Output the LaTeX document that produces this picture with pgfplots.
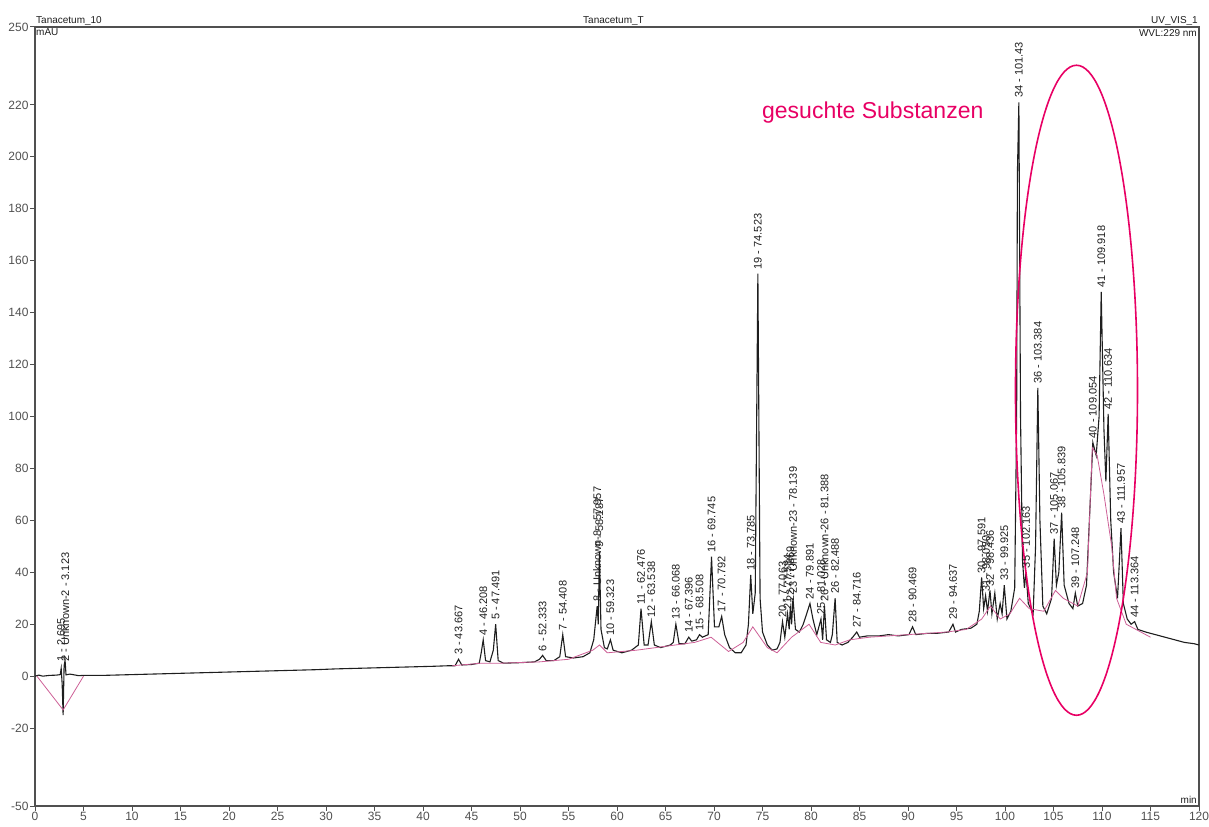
\documentclass[border=0pt]{standalone}
\usepackage{fontspec}
\setmainfont{Liberation Sans}
\usepackage{pgfplots}
\usepackage{pgfplotstable}
\pgfplotsset{compat=1.18}
\definecolor{mag}{RGB}{232,0,100}
\definecolor{axgray}{RGB}{80,80,80}
\definecolor{trace}{RGB}{30,30,30}
\definecolor{pinkb}{RGB}{205,95,150}

\pgfplotstableread{
t y
0 0
0.4 0.4
0.8 0
1.5 0.3
2.2 0.4
2.6 0.6
2.7 3
2.8 -3
2.9 -15
3.0 4
3.1 6
3.2 0.5
3.6 0.8
4.5 0.2
5 0.3
7 0.3
9 0.5
11 0.7
13 0.9
15 1.1
17 1.3
19 1.5
21 1.7
23 1.9
25 2.1
27 2.3
29 2.5
31 2.8
33 3.0
35 3.2
37 3.4
39 3.6
41 3.8
42.5 4.0
43.3 4.0
43.667 6.5
44.0 4.3
45.0 4.5
45.8 5
46.0 9
46.208 14
46.45 6
46.9 5.5
47.25 10
47.491 20
47.75 6
48.3 5
50.0 5.2
51.5 5.5
52.0 6.5
52.333 8
52.7 6
53.5 6
54.1 7.5
54.408 16
54.7 7.5
55.5 7
56.5 7.5
57.2 9
57.6 14
57.957 27
58.07 20
58.187 48
58.35 18
58.7 11
59.0 10.5
59.323 14
59.6 10
60.5 9
61.5 10
62.2 12
62.476 26
62.8 12
63.2 12
63.538 21
63.85 12
64.5 11
65.5 12
65.8 13
66.068 20
66.4 12.5
67.0 12.5
67.396 15
67.7 13.5
68.2 14
68.508 16
68.8 15
69.4 16
69.745 46
70.05 19
70.5 19
70.792 23
71.1 16
71.6 11
72.2 9
72.8 9
73.3 12
73.55 20
73.785 39
74.0 24
74.25 32
74.523 155
74.75 30
75.0 17
75.5 12
76.0 10
76.5 10.5
76.8 13
77.063 21
77.3 15
77.584 24
77.75 18
77.869 27
78.0 20
78.139 30
78.4 18
78.8 17
79.2 20
79.55 24
79.891 28
80.2 22
80.6 16
81.028 22
81.2 14
81.388 27
81.6 14
82.0 13
82.2 16
82.488 30
82.7 13
83.2 12
83.8 13
84.3 15
84.716 17
85.0 15
85.8 15.5
87 15.5
88 16
89 15.5
90.1 16
90.469 19
90.8 16
92 16.5
93 16.5
94.2 17
94.637 20
94.9 17
95.5 18
96.5 18.5
97.1 20
97.35 25
97.591 38
97.8 26
98.0 31
98.2 25
98.45 33
98.65 24
98.95 32
99.2 22
99.5 28
99.7 24
99.925 35
100.2 22
100.6 25
101.0 34
101.2 100
101.28 194
101.43 221
101.6 100
101.8 45
102.0 34
102.163 40
102.4 28
102.9 24
103.15 50
103.384 111
103.6 60
103.9 27
104.3 24
104.8 30
105.067 53
105.3 35
105.55 40
105.839 63
106.1 35
106.6 28
107.0 26
107.248 32
107.5 27
108.0 28
108.4 35
108.7 60
109.054 90
109.4 85
109.7 100
109.918 148
110.2 95
110.4 75
110.634 101
110.9 60
111.2 40
111.6 30
111.8 45
111.957 57
112.2 28
112.6 22
113.0 20
113.364 21
113.7 18
114.5 17
115.5 16
116.5 15
117.5 14
118.5 13
119.5 12.5
120 12
}\chrom

\pgfplotstableread{
t y
43 4
46 5
48 5
52 5.5
55 6.5
57.5 10
58.2 12
59 9
62 10
64 11
66 12
68 13
69.7 15
71.5 9.5
73 13
74 19
75.5 11
76.5 9
78 15
79.8 20
81 13
82.5 12
84 14
86 15
90 16
94 17
96 18
97.6 22
98.5 27
99.5 22
100.5 24
101.5 30
102.5 26
104 25
105.2 33
106 30
107.5 27
108.5 40
109.0 88
109.5 85
110.2 70
111.0 50
111.5 30
112.5 20
113.5 18
115 15
}\pinkbase

\pgfplotstableread[col sep=comma]{
t,y,lab
2.695,5,1 - 2.695
3.123,5,2 - Unknown-2 - 3.123
43.667,7.5,3 - 43.667
46.208,15,4 - 46.208
47.491,21,5 - 47.491
52.333,9,6 - 52.333
54.408,17,7 - 54.408
57.957,28,8 - Unknown-8 - 57.957
58.187,49,9 - 58.187
59.323,15,10 - 59.323
62.476,27,11 - 62.476
63.538,22,12 - 63.538
66.068,21,13 - 66.068
67.396,16,14 - 67.396
68.508,17,15 - 68.508
69.745,47,16 - 69.745
70.792,24,17 - 70.792
73.785,40,18 - 73.785
74.523,156,19 - 74.523
77.063,22,20 - 77.063
77.584,25,21 - 77.584
77.869,28,22 - 77.869
78.139,31,23 - Unknown-23 - 78.139
79.891,29,24 - 79.891
81.028,23,25 - 81.028
81.388,28,26 - Unknown-26 - 81.388
82.488,31,26 - 82.488
84.716,18,27 - 84.716
90.469,20,28 - 90.469
94.637,21,29 - 94.637
97.591,39,30 - 97.591
98.05,32,31 - 98.050
98.45,34,32 - 98.436
99.925,36,33 - 99.925
101.43,222,34 - 101.43
102.163,41,35 - 102.163
103.384,112,36 - 103.384
105.067,54,37 - 105.067
105.839,64,38 - 105.839
107.248,33,39 - 107.248
109.054,91,40 - 109.054
109.918,149,41 - 109.918
110.634,102,42 - 110.634
111.957,58,43 - 111.957
113.364,22,44 - 113.364
}\labels

\begin{document}
\begin{tikzpicture}
\begin{axis}[
  width=1164pt, height=779pt, scale only axis,
  xmin=0, xmax=120, ymin=-50, ymax=250,
  xtick={0,5,...,120},
  ytick={-50,-20,0,20,40,60,80,100,120,140,160,180,200,220,250},
  axis line style={axgray, line width=1.6pt},
  tick style={axgray, line width=1pt},
  tick align=outside, major tick length=5pt,
  xtick pos=bottom, ytick pos=left,
  tick label style={font=\fontsize{12}{12}\selectfont, text=axgray},
  xticklabel style={yshift=2pt},
  yticklabel style={xshift=2pt},
  /pgf/number format/assume math mode=true,
  /pgf/number format/1000 sep={},
  clip=false,
]
\addplot[trace, line width=1.1pt] table[x=t,y=y] {\chrom};
\addplot[pinkb, line width=0.8pt] table[x=t,y=y] {\pinkbase};
\addplot[pinkb, line width=0.8pt] coordinates {(0.2,0) (2.9,-13) (5,0)};
\addplot[only marks, mark=none, nodes near coords, point meta=explicit symbolic,
  nodes near coords style={rotate=90, anchor=west, inner sep=1.5pt,
  font=\fontsize{11}{11}\selectfont, text=trace}]
  table[x=t, y=y, meta=lab] {\labels};

\draw[mag, line width=1.6pt] (axis cs:107.37,110.1) ellipse [x radius=61pt, y radius=325pt];
\node[mag, anchor=west, font=\fontsize{23}{23}\selectfont] at (axis cs:74.6,217) {gesuchte Substanzen};

\node[anchor=south west, font=\fontsize{10}{10}\selectfont, text=trace, inner sep=1pt] at (rel axis cs:0,1) {Tanacetum\_10};
\node[anchor=south, font=\fontsize{10}{10}\selectfont, text=trace, inner sep=1pt] at (rel axis cs:0.497,1) {Tanacetum\_T};
\node[anchor=south east, font=\fontsize{10}{10}\selectfont, text=trace, inner sep=1pt] at (rel axis cs:1,1) {UV\_VIS\_1};
\node[anchor=north west, font=\fontsize{10}{10}\selectfont, text=trace, inner sep=1pt] at (rel axis cs:0,1) {mAU};
\node[anchor=north east, font=\fontsize{10}{10}\selectfont, text=trace, inner sep=2pt] at (rel axis cs:1,1) {WVL:229 nm};
\node[anchor=south east, font=\fontsize{10}{10}\selectfont, text=trace, inner sep=2pt] at (rel axis cs:1,0) {min};
\end{axis}
\pgfresetboundingbox
\path ([xshift=-35pt,yshift=-20pt]current axis.south west) rectangle ([xshift=10pt,yshift=27pt]current axis.north east);
\end{tikzpicture}
\end{document}
